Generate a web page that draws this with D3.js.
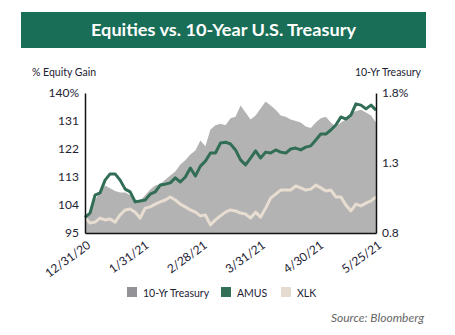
<!DOCTYPE html>
<html>
<head>
<meta charset="utf-8">
<script src="https://cdn.jsdelivr.net/npm/d3@7"></script>
<style>
  body { margin: 0; background: #fff; }
  svg text { font-family: Lato, "Open Sans", sans-serif; fill: #1d2233; }
  .axis .domain { stroke: #111; stroke-width: 1.5px; }
  .axis text { font-size: 12px; fill: #1d2233; }
</style>
</head>
<body>
<div id="chart"></div>
<script>
/*global d3*/
var dateLabels = ["12/31/20", "1/31/21", "2/28/21", "3/31/21", "4/30/21", "5/25/21"];
var leftTicks = [95, 104, 113, 122, 131, 140];
var rightTicks = [0.8, 1.3, 1.8];

// 10-yr treasury yield, %
var treasury = [
    0.91, 0.95, 1.04, 1.09, 1.14, 1.12, 1.10, 1.09, 1.09, 1.07,
    1.04, 1.03, 1.07, 1.11, 1.14, 1.15, 1.18, 1.21, 1.24, 1.29,
    1.32, 1.36, 1.39, 1.46, 1.42, 1.54, 1.57, 1.58, 1.57, 1.62,
    1.63, 1.71, 1.66, 1.61, 1.64, 1.69, 1.74, 1.71, 1.68, 1.64,
    1.63, 1.61, 1.60, 1.59, 1.56, 1.55, 1.59, 1.62, 1.63, 1.59,
    1.56, 1.59, 1.61, 1.66, 1.67, 1.68, 1.66, 1.64, 1.59
];
// equity gain, indexed to 100
var amus = [
    100.0, 101.4, 107.2, 107.9, 112.0, 114.0, 114.0, 112.0, 109.1, 108.2,
    105.0, 105.3, 105.6, 107.5, 108.2, 110.4, 110.7, 111.1, 112.7, 111.4,
    113.0, 115.9, 113.3, 116.5, 118.1, 120.7, 120.7, 123.9, 124.2, 123.6,
    121.7, 118.5, 116.9, 119.1, 121.4, 119.1, 121.0, 120.7, 121.7, 121.0,
    120.7, 122.0, 122.3, 121.7, 122.6, 123.0, 124.9, 126.8, 126.8, 128.1,
    129.7, 132.3, 131.6, 132.9, 136.5, 136.1, 134.9, 136.1, 134.5
];
var xlk = [
    100.0, 98.2, 98.5, 99.8, 99.2, 99.5, 98.5, 100.8, 102.4, 102.7,
    101.7, 99.8, 103.0, 103.4, 104.3, 105.0, 105.6, 106.6, 105.6, 104.3,
    103.4, 102.4, 101.7, 100.5, 100.8, 97.6, 99.2, 100.5, 101.7, 102.4,
    102.1, 101.4, 101.1, 99.8, 101.7, 100.1, 103.0, 106.2, 107.5, 108.8,
    108.8, 108.8, 110.1, 109.5, 108.8, 109.1, 110.4, 109.5, 108.5, 108.8,
    106.6, 106.6, 104.0, 102.1, 104.3, 103.7, 104.6, 105.3, 106.6
];
var legendItems = [
    {name: "10-Yr Treasury", color: "#939397"},
    {name: "AMUS", color: "#336e57"},
    {name: "XLK", color: "#e6dbd0"}
];

(function () {
    "use strict";
    var W = 455, H = 335,
        margin = {top: 93, right: 79, bottom: 102, left: 85},
        width = W - margin.left - margin.right,
        height = H - margin.top - margin.bottom;

    var svg = d3.select("#chart").append("svg")
        .attr("width", W)
        .attr("height", H);

    // title banner
    svg.append("rect")
        .attr("x", 21).attr("y", 12)
        .attr("width", 405).attr("height", 36)
        .attr("fill", "#186e56");
    svg.append("text")
        .attr("x", 223.5).attr("y", 36)
        .attr("text-anchor", "middle")
        .attr("textLength", 265)
        .attr("lengthAdjust", "spacingAndGlyphs")
        .style("font-size", "17px")
        .style("font-weight", "bold")
        .style("fill", "#fff")
        .text("Equities vs. 10-Year U.S. Treasury");

    svg.append("text")
        .attr("x", 32).attr("y", 76)
        .style("font-size", "10.5px")
        .text("% Equity Gain");
    svg.append("text")
        .attr("x", 421).attr("y", 76)
        .attr("text-anchor", "end")
        .style("font-size", "10.5px")
        .text("10-Yr Treasury");

    var g = svg.append("g")
        .attr("transform", "translate(" + margin.left + "," + margin.top + ")");

    var x = d3.scaleLinear().domain([0, amus.length - 1]).range([0, width]),
        yL = d3.scaleLinear().domain([95, 140]).range([height, 0]),
        yR = d3.scaleLinear().domain([0.8, 1.8]).range([height, 0]),
        xl = d3.scalePoint().domain(dateLabels).range([0, width]);

    var area = d3.area()
        .x(function (d, i) { return x(i); })
        .y0(yR(0.8))
        .y1(function (d) { return yR(d); });

    var lineL = d3.line()
        .x(function (d, i) { return x(i); })
        .y(function (d) { return yL(d); });

    g.append("path")
        .datum(treasury)
        .attr("fill", "#b3b3b3")
        .attr("d", area);

    g.append("path")
        .datum(xlk)
        .attr("fill", "none")
        .attr("stroke", "#e8ddd1")
        .attr("stroke-width", 3)
        .attr("stroke-linejoin", "round")
        .attr("d", lineL);

    g.append("path")
        .datum(amus)
        .attr("fill", "none")
        .attr("stroke", "#326e56")
        .attr("stroke-width", 3)
        .attr("stroke-linejoin", "round")
        .attr("d", lineL);

    g.append("g")
        .attr("class", "axis")
        .call(d3.axisLeft(yL).tickValues(leftTicks).tickSize(0).tickPadding(6)
            .tickFormat(function (d) { return d === 140 ? "140%" : d; }));

    g.append("g")
        .attr("class", "axis")
        .attr("transform", "translate(" + width + ",0)")
        .call(d3.axisRight(yR).tickValues(rightTicks).tickSize(0).tickPadding(6)
            .tickFormat(function (d) { return d === 1.8 ? "1.8%" : d3.format(".1f")(d); }));

    g.append("g")
        .attr("class", "axis")
        .attr("transform", "translate(0," + height + ")")
        .call(d3.axisBottom(xl).tickSize(0).tickSizeOuter(0).tickPadding(0))
        .selectAll("text")
        .attr("text-anchor", "end")
        .attr("transform", function () { return "translate(6,14) rotate(-36)"; })
        .attr("dy", "0");

    // legend
    var legendX = [127, 221, 281];
    var lg = svg.append("g").selectAll("g")
        .data(legendItems)
        .enter().append("g")
        .attr("transform", function (d, i) { return "translate(" + legendX[i] + ",287)"; });
    lg.append("rect")
        .attr("width", 10).attr("height", 10)
        .attr("fill", function (d) { return d.color; });
    lg.append("text")
        .attr("x", 16).attr("y", 9.5)
        .style("font-size", "10.5px")
        .text(function (d) { return d.name; });

    svg.append("text")
        .attr("x", 424).attr("y", 322)
        .attr("text-anchor", "end")
        .style("font-size", "12px")
        .style("font-style", "italic")
        .style("fill", "#666")
        .text("Source: Bloomberg");
}());
</script>
</body>
</html>
